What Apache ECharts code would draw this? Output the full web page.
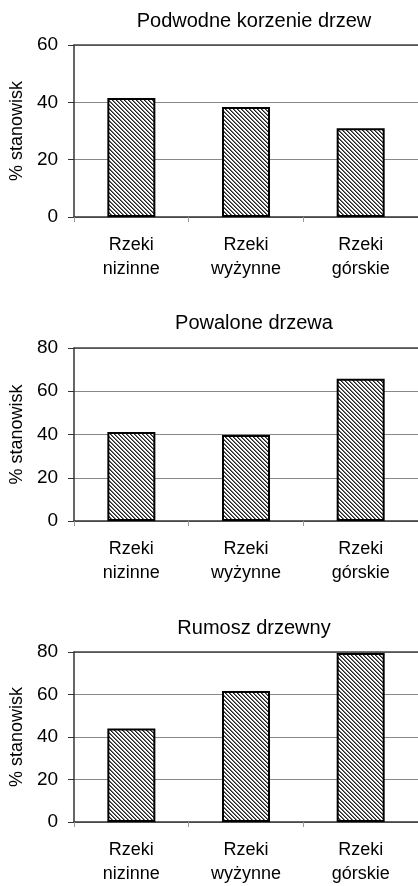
<!DOCTYPE html>
<html>
<head>
<meta charset="utf-8">
<script src="https://cdn.jsdelivr.net/npm/echarts@6/dist/echarts.min.js"></script>
<style>
  html, body { margin: 0; padding: 0; background: #fff; }
  #chart { width: 418px; height: 886px; }
</style>
</head>
<body>
<div id="chart"></div>
<script>
const categories = ["Rzeki\nnizinne", "Rzeki\nwyżynne", "Rzeki\ngórskie"];
const titles = ["Podwodne korzenie drzew", "Powalone drzewa", "Rumosz drzewny"];
const korzenie = [41.5, 38.4, 31.0];
const powalone = [41.2, 39.8, 65.8];
const rumosz = [44.0, 61.7, 79.5];
const yMax = [60, 80, 80];

// layout of the three panels
const panels = [
  { top: 45, height: 172, titleTop: 11 },
  { top: 348, height: 173, titleTop: 313 },
  { top: 652, height: 172, titleTop: 618 },
];
const seriesData = [korzenie, powalone, rumosz];

// hatch pattern for bars
function makeHatch() {
  const c = document.createElement("canvas");
  c.width = 4;
  c.height = 4;
  const ctx = c.getContext("2d");
  ctx.fillStyle = "#fff";
  ctx.fillRect(0, 0, 4, 4);
  for (let y = 0; y < 4; y++) {
    for (let x = 0; x < 4; x++) {
      const d = (((x - y) % 4) + 4) % 4;
      if (d === 0) {
        ctx.fillStyle = "#222";
        ctx.fillRect(x, y, 1, 1);
      } else if (d === 1) {
        ctx.fillStyle = "#777";
        ctx.fillRect(x, y, 1, 1);
      }
    }
  }
  return c;
}
const hatch = makeHatch();

const font = "Liberation Sans, Arial, sans-serif";
const chart = echarts.init(document.getElementById("chart"), null, { renderer: "canvas" });

const bottomAxes = panels.map((p, i) => ({
  type: "category",
  gridIndex: i,
  position: "bottom",
  data: categories,
  axisLine: { lineStyle: { color: "#333", width: 1.5 } },
  axisTick: { show: true, length: 5, lineStyle: { color: "#999" } },
  axisLabel: {
    fontFamily: font,
    fontSize: 18,
    color: "#000",
    lineHeight: 24,
    margin: 16,
  },
}));
// plain dark line along the top of each plot (the frame)
const topAxes = panels.map((p, i) => ({
  type: "category",
  gridIndex: i,
  position: "top",
  data: categories,
  axisLine: { show: true, onZero: false, lineStyle: { color: "#444", width: 1.5 } },
  axisTick: { show: false },
  axisLabel: { show: false },
}));

chart.setOption({
  animation: false,
  backgroundColor: "#fff",
  title: panels.map((p, i) => ({
    text: titles[i],
    left: 254,
    top: p.titleTop,
    textAlign: "center",
    padding: 0,
    textStyle: { fontFamily: font, fontSize: 20, fontWeight: "normal", color: "#000" },
  })),
  grid: panels.map((p) => ({
    left: 74,
    top: p.top,
    width: 348,
    height: p.height,
  })),
  xAxis: bottomAxes.concat(topAxes),
  yAxis: panels.map((p, i) => ({
    type: "value",
    gridIndex: i,
    min: 0,
    max: yMax[i],
    interval: 20,
    name: "% stanowisk",
    nameLocation: "middle",
    nameGap: 48,
    nameTextStyle: { fontFamily: font, fontSize: 18, color: "#000" },
    axisLine: { show: true, lineStyle: { color: "#333", width: 1.5 } },
    axisTick: { show: true, length: 6, lineStyle: { color: "#333" } },
    axisLabel: { fontFamily: font, fontSize: 19, color: "#000", margin: 16 },
    splitLine: { show: true, lineStyle: { color: "#888", width: 1 } },
  })),
  series: seriesData.map((d, i) => ({
    type: "bar",
    xAxisIndex: i,
    yAxisIndex: i,
    data: d,
    barWidth: 48,
    itemStyle: {
      color: { image: hatch, repeat: "repeat" },
      borderColor: "#000",
      borderWidth: 2,
    },
  })),
});
</script>
</body>
</html>
